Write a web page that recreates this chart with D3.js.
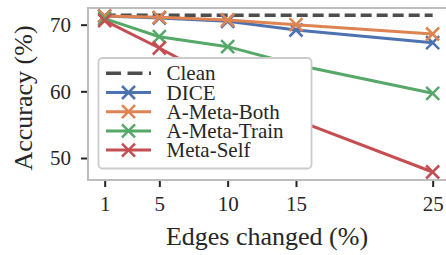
<!DOCTYPE html>
<html>
<head>
<meta charset="utf-8">
<script src="https://cdn.jsdelivr.net/npm/d3@7"></script>
<style>
  body { margin: 0; background: #fff; }
  svg { display: block; font-family: "Liberation Serif", "Times New Roman", serif; }
</style>
</head>
<body>
<div id="chart"></div>
<script>
var w = 446, h = 255;

// data
var edges = [1, 5, 10, 15, 25];
var clean = [71.4, 71.4, 71.4, 71.4, 71.4];
var dice = [71.3, 71.0, 70.5, 69.2, 67.3];
var metaBoth = [71.3, 71.1, 70.7, 70.0, 68.6];
var metaTrain = [70.9, 68.2, 66.7, 64.0, 59.7];
var metaSelf = [70.6, 66.5, 61.0, 55.7, 47.9];
var yTicks = [50, 60, 70];

var series = [
  { name: "Clean", values: clean, color: "#4d4d4d", dashed: true },
  { name: "DICE", values: dice, color: "#4c72b0" },
  { name: "A-Meta-Both", values: metaBoth, color: "#dd8452" },
  { name: "A-Meta-Train", values: metaTrain, color: "#55a868" },
  { name: "Meta-Self", values: metaSelf, color: "#c44e52" }
];

var plotL = 88, plotR = 447, plotT = 8, plotB = 180;

var svg = d3.select("#chart").append("svg")
  .attr("width", w).attr("height", h);

var x = d3.scaleLinear().domain([-0.22, 26.05]).range([plotL, plotR]);
var y = d3.scaleLinear().domain([46.7, 72.5]).range([plotB, plotT]);

// frame
svg.append("rect")
  .attr("x", plotL).attr("y", plotT)
  .attr("width", plotR - plotL).attr("height", plotB - plotT)
  .attr("fill", "none").attr("stroke", "#bdbdbd").attr("stroke-width", 2);

// axes
var xAxis = svg.append("g")
  .attr("transform", "translate(0," + (plotB + 1) + ")")
  .call(d3.axisBottom(x).tickValues(edges).tickSize(6).tickPadding(9).tickFormat(d3.format("d")));
var yAxis = svg.append("g")
  .attr("transform", "translate(" + (plotL - 1) + ",0)")
  .call(d3.axisLeft(y).tickValues(yTicks).tickSize(6).tickPadding(10));
[xAxis, yAxis].forEach(function (g) {
  g.select(".domain").remove();
  g.selectAll(".tick line").attr("stroke", "#262626").attr("stroke-width", 2);
  g.selectAll(".tick text")
    .attr("fill", "#262626")
    .style("font-family", "Liberation Serif, serif")
    .style("font-size", "21px");
});

// lines
var lineGen = d3.line()
  .x(function (d, i) { return x(edges[i]); })
  .y(function (d) { return y(d); });

function cross(g, cx, cy, r, color) {
  g.append("path")
    .attr("d", "M" + (cx - r) + "," + (cy - r) + "L" + (cx + r) + "," + (cy + r) +
               "M" + (cx - r) + "," + (cy + r) + "L" + (cx + r) + "," + (cy - r))
    .attr("stroke", color).attr("stroke-width", 2.5).attr("fill", "none");
}

var marks = svg.append("g").attr("class", "marks");
series.forEach(function (s) {
  var g = marks.append("g");
  g.append("path")
    .datum(s.values)
    .attr("d", lineGen)
    .attr("fill", "none")
    .attr("stroke", s.color)
    .attr("stroke-width", s.dashed ? 3.5 : 3)
    .attr("stroke-dasharray", s.dashed ? "11,5" : null);
  if (!s.dashed) {
    s.values.forEach(function (v, i) {
      cross(g, x(edges[i]), y(v), 6.5, s.color);
    });
  }
});

// legend (drawn on top of the lines)
var lg = svg.append("g").attr("class", "legend");
lg.append("rect")
  .attr("x", 98.5).attr("y", 58)
  .attr("width", 213).attr("height", 110.5)
  .attr("rx", 4)
  .style("fill", "#ffffff")
  .style("stroke", "#cccccc").style("stroke-width", 1.8);

series.forEach(function (s, i) {
  var cy = 73.3 + i * 19.2;
  lg.append("line")
    .attr("x1", 106).attr("x2", 151)
    .attr("y1", cy).attr("y2", cy)
    .attr("stroke", s.color)
    .attr("stroke-width", s.dashed ? 3.5 : 3)
    .attr("stroke-dasharray", s.dashed ? "15,6.5" : null);
  if (!s.dashed) cross(lg, 128.5, cy, 6.5, s.color);
  lg.append("text")
    .attr("x", 166.5).attr("y", cy + 7)
    .attr("fill", "#262626")
    .style("font-size", "21px")
    .text(s.name);
});
lg.raise();

// axis labels
svg.append("text")
  .attr("x", (plotL + 446) / 2).attr("y", 245)
  .attr("text-anchor", "middle")
  .attr("fill", "#262626")
  .style("font-size", "26px")
  .text("Edges changed (%)");

svg.append("text")
  .attr("transform", "translate(32," + ((plotT + plotB) / 2 + 4) + ") rotate(-90)")
  .attr("text-anchor", "middle")
  .attr("fill", "#262626")
  .style("font-size", "26px")
  .text("Accuracy (%)");
</script>
</body>
</html>
